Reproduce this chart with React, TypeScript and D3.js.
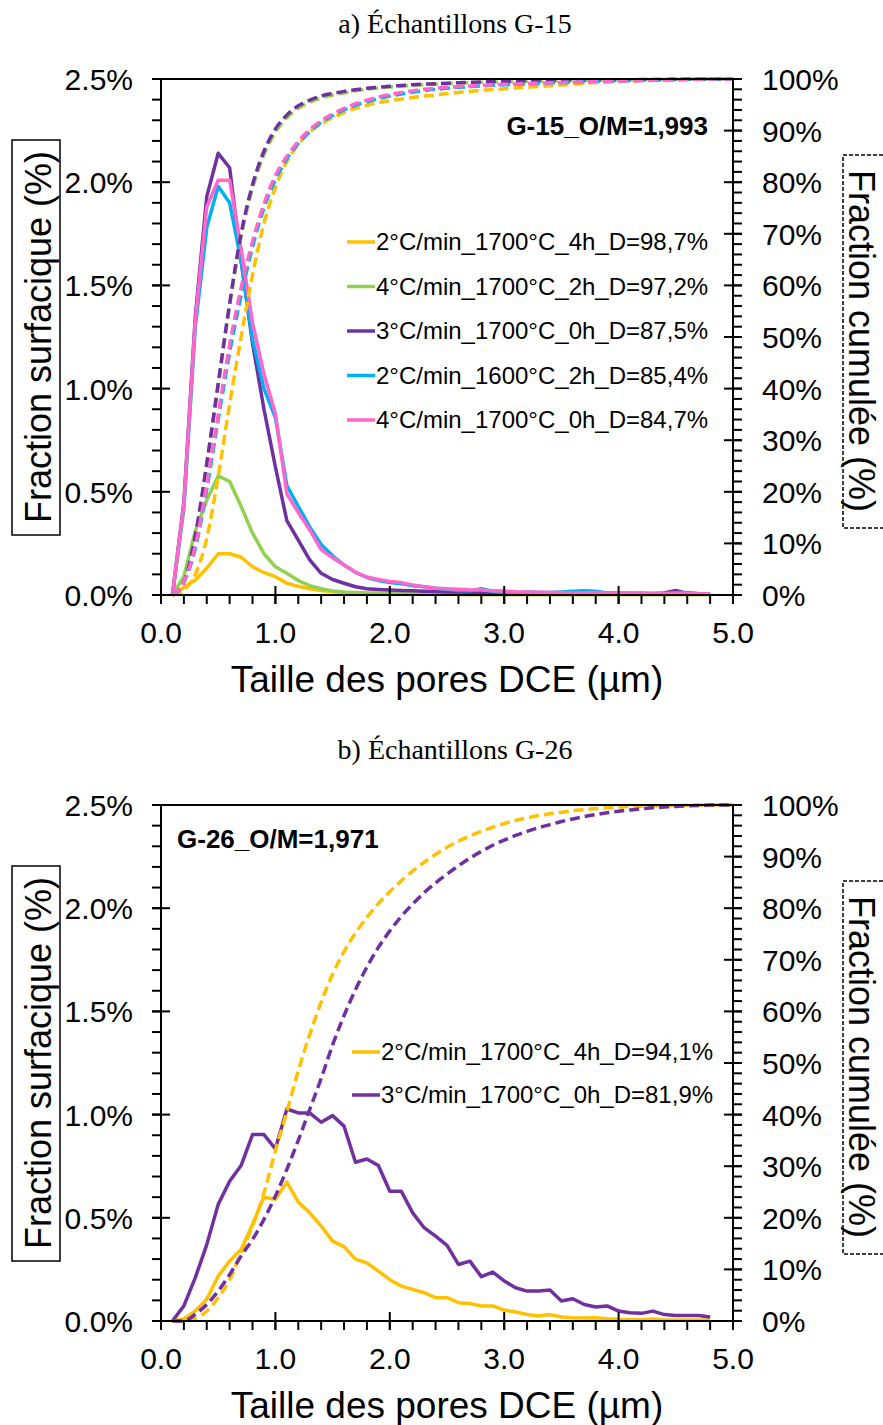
import React from 'react';
import * as d3 from 'd3';

// ---------- DATA ----------
const X_VALUES = [
  0.1, 0.2, 0.3, 0.4, 0.5, 0.6, 0.7, 0.8, 0.9, 1.0,
  1.1, 1.2, 1.3, 1.4, 1.5, 1.6, 1.7, 1.8, 1.9, 2.0,
  2.1, 2.2, 2.3, 2.4, 2.5, 2.6, 2.7, 2.8, 2.9, 3.0,
  3.1, 3.2, 3.3, 3.4, 3.5, 3.6, 3.7, 3.8, 3.9, 4.0,
  4.1, 4.2, 4.3, 4.4, 4.5, 4.6, 4.7, 4.8, 4.9, 5.0,
];
const LEFT_TICKS = [0, 0.5, 1.0, 1.5, 2.0, 2.5];
const RIGHT_TICKS = [0, 10, 20, 30, 40, 50, 60, 70, 80, 90, 100];
const X_TICKS = [0, 1, 2, 3, 4, 5];

// Panel a) G-15
const A_TITLE = 'a) Échantillons G-15';
const A_TAG = 'G-15_O/M=1,993';
const A_NAMES = [
  '2°C/min_1700°C_4h_D=98,7%',
  '4°C/min_1700°C_2h_D=97,2%',
  '3°C/min_1700°C_0h_D=87,5%',
  '2°C/min_1600°C_2h_D=85,4%',
  '4°C/min_1700°C_0h_D=84,7%',
];
// surface fraction (%) at X_VALUES 0.1 .. 4.8
const A_DIST_YELLOW = [0, 0.037, 0.073, 0.13, 0.2, 0.2, 0.183, 0.137, 0.108, 0.089, 0.057, 0.042, 0.03, 0.022, 0.016, 0.012, 0.01, 0.008, 0.007, 0.006, 0.005, 0.005, 0.004, 0.004, 0.004, 0.003, 0.003, 0.003, 0.003, 0.002, 0.002, 0.002, 0.002, 0.002, 0.002, 0.002, 0.002, 0.002, 0.002, 0.002, 0.002, 0.002, 0.002, 0.002, 0.002, 0.002, 0.002, 0.002];
const A_DIST_GREEN = [0, 0.09, 0.31, 0.46, 0.577, 0.55, 0.43, 0.3, 0.2, 0.137, 0.105, 0.07, 0.045, 0.03, 0.02, 0.015, 0.012, 0.01, 0.008, 0.007, 0.006, 0.005, 0.005, 0.004, 0.004, 0.004, 0.003, 0.003, 0.003, 0.003, 0.002, 0.002, 0.002, 0.002, 0.002, 0.002, 0.002, 0.002, 0.002, 0.002, 0.002, 0.002, 0.002, 0.002, 0.002, 0.002, 0.002, 0.002];
const A_DIST_PURPLE = [0, 0.45, 1.35, 1.93, 2.14, 2.07, 1.62, 1.22, 0.9, 0.62, 0.36, 0.266, 0.17, 0.105, 0.075, 0.057, 0.04, 0.03, 0.027, 0.024, 0.022, 0.02, 0.018, 0.017, 0.015, 0.014, 0.013, 0.012, 0.012, 0.011, 0.01, 0.01, 0.01, 0.009, 0.009, 0.009, 0.008, 0.008, 0.008, 0.007, 0.007, 0.007, 0.006, 0.01, 0.022, 0.008, 0.006, 0.005];
const A_DIST_CYAN = [0, 0.42, 1.3, 1.78, 1.98, 1.9, 1.62, 1.24, 1.0, 0.86, 0.53, 0.43, 0.33, 0.245, 0.19, 0.145, 0.11, 0.085, 0.07, 0.06, 0.055, 0.045, 0.04, 0.033, 0.028, 0.022, 0.02, 0.03, 0.018, 0.012, 0.01, 0.015, 0.012, 0.012, 0.015, 0.018, 0.02, 0.018, 0.01, 0.01, 0.008, 0.008, 0.007, 0.007, 0.01, 0.012, 0.006, 0.005];
const A_DIST_PINK = [0, 0.44, 1.33, 1.88, 2.01, 2.01, 1.68, 1.32, 1.07, 0.88, 0.49, 0.4, 0.315, 0.22, 0.18, 0.145, 0.11, 0.087, 0.075, 0.065, 0.06, 0.048, 0.04, 0.033, 0.03, 0.028, 0.025, 0.024, 0.02, 0.019, 0.016, 0.015, 0.013, 0.012, 0.012, 0.01, 0.01, 0.012, 0.01, 0.009, 0.008, 0.008, 0.007, 0.007, 0.008, 0.007, 0.006, 0.006];
// cumulative fraction (%) at X_VALUES 0.1 .. 5.0
const A_CUM_YELLOW = [0, 1, 4, 11, 23, 37, 50, 62, 72, 79, 84, 87.3, 89.7, 91.3, 92.5, 93.5, 94.3, 94.9, 95.4, 95.8, 96.1, 96.4, 96.7, 96.9, 97.2, 97.4, 97.6, 97.8, 97.95, 98.1, 98.25, 98.4, 98.55, 98.7, 98.85, 99, 99.15, 99.3, 99.4, 99.5, 99.6, 99.7, 99.75, 99.85, 99.9, 99.95, 100, 100, 100, 100];
const A_CUM_GREEN = [0, 2.5, 11.3, 25.2, 40.6, 56, 69.4, 78.8, 85.3, 89.7, 92.5, 94.3, 95.5, 96.3, 96.9, 97.3, 97.7, 98, 98.25, 98.45, 98.6, 98.75, 98.9, 99, 99.1, 99.2, 99.28, 99.35, 99.4, 99.45, 99.5, 99.55, 99.6, 99.64, 99.68, 99.72, 99.75, 99.78, 99.8, 99.82, 99.85, 99.87, 99.89, 99.91, 99.93, 99.95, 99.97, 100, 100, 100];
const A_CUM_PURPLE = [0, 2.5, 11.5, 25.5, 41, 56.5, 70, 79.5, 86, 90.3, 93, 94.8, 95.9, 96.7, 97.2, 97.6, 97.9, 98.2, 98.4, 98.6, 98.75, 98.9, 99, 99.1, 99.2, 99.28, 99.35, 99.42, 99.48, 99.53, 99.58, 99.62, 99.66, 99.7, 99.73, 99.76, 99.79, 99.81, 99.83, 99.85, 99.87, 99.88, 99.9, 99.91, 99.95, 99.97, 99.99, 100, 100, 100];
const A_CUM_CYAN = [0, 2.5, 9, 20.5, 34, 47, 58, 67.5, 75, 80.5, 84.5, 87.5, 89.8, 91.6, 92.9, 94, 94.9, 95.6, 96.2, 96.7, 97.1, 97.45, 97.75, 98, 98.2, 98.38, 98.52, 98.66, 98.78, 98.88, 98.97, 99.06, 99.14, 99.22, 99.3, 99.38, 99.46, 99.54, 99.6, 99.65, 99.7, 99.74, 99.78, 99.82, 99.87, 99.92, 99.96, 100, 100, 100];
const A_CUM_PINK = [0, 2.5, 9.5, 21.5, 35, 48.5, 59.5, 68.5, 75.8, 81.3, 85, 87.9, 90.2, 91.9, 93.2, 94.3, 95.2, 95.9, 96.5, 97, 97.4, 97.7, 98, 98.2, 98.38, 98.53, 98.66, 98.78, 98.88, 98.97, 99.05, 99.12, 99.19, 99.26, 99.32, 99.38, 99.44, 99.5, 99.55, 99.6, 99.65, 99.7, 99.74, 99.78, 99.83, 99.88, 99.94, 100, 100, 100];

// Panel b) G-26
const B_TITLE = 'b) Échantillons G-26';
const B_TAG = 'G-26_O/M=1,971';
const B_NAMES = ['2°C/min_1700°C_4h_D=94,1%', '3°C/min_1700°C_0h_D=81,9%'];
const B_DIST_YELLOW = [0, 0.01, 0.048, 0.105, 0.218, 0.29, 0.347, 0.468, 0.6, 0.59, 0.673, 0.576, 0.524, 0.46, 0.387, 0.36, 0.3, 0.282, 0.242, 0.2, 0.169, 0.153, 0.137, 0.113, 0.113, 0.089, 0.085, 0.073, 0.073, 0.053, 0.044, 0.032, 0.024, 0.031, 0.019, 0.016, 0.015, 0.016, 0.011, 0.008, 0.007, 0.006, 0.01, 0.006, 0.005, 0.005, 0.005, 0.005];
const B_DIST_PURPLE = [0, 0.073, 0.21, 0.37, 0.565, 0.677, 0.753, 0.903, 0.903, 0.834, 1.027, 1.008, 1.008, 0.963, 0.995, 0.944, 0.769, 0.785, 0.753, 0.629, 0.629, 0.524, 0.452, 0.411, 0.366, 0.274, 0.29, 0.215, 0.237, 0.194, 0.161, 0.145, 0.145, 0.15, 0.097, 0.108, 0.08, 0.068, 0.073, 0.048, 0.04, 0.037, 0.048, 0.031, 0.027, 0.027, 0.027, 0.019];
const B_CUM_YELLOW = [0, 0, 0.5, 1.9, 4.5, 8, 13.2, 18.4, 24.8, 33, 40.5, 48.5, 55.5, 61.8, 67.2, 71.6, 75.2, 78.2, 80.9, 83.2, 85.3, 87.2, 88.9, 90.4, 91.8, 93, 94, 94.9, 95.7, 96.4, 97, 97.5, 97.95, 98.3, 98.6, 98.9, 99.1, 99.3, 99.45, 99.6, 99.7, 99.75, 99.8, 99.85, 99.9, 99.93, 99.96, 100, 100, 100];
const B_CUM_PURPLE = [0, 0, 1.3, 3.2, 5.8, 9, 12.6, 15.8, 19.7, 24.2, 29.4, 35, 41, 47, 53.5, 59.2, 64.2, 68.6, 72.4, 75.6, 78.4, 80.8, 83, 84.9, 86.6, 88.2, 89.7, 91, 92.2, 93.2, 94.1, 94.9, 95.6, 96.2, 96.8, 97.3, 97.75, 98.15, 98.5, 98.8, 99.05, 99.25, 99.45, 99.6, 99.72, 99.83, 99.92, 100, 100, 100];

// ---------- STYLE ----------
const YELLOW = '#FFC000';
const GREEN = '#92D050';
const PURPLE = '#7030A0';
const CYAN = '#00B0F0';
const PINK = '#FF66CC';
const SANS = '"Liberation Sans", Arial, sans-serif';
const SERIF = '"Liberation Serif", "Times New Roman", serif';

const W = 883;
const H = 1425;
const X0 = 161;
const X1 = 733;
const PLOT_H = 516;

type Series = { name: string; color: string; dist: number[]; cum: number[] };

const x = d3.scaleLinear().domain([0, 5]).range([X0, X1]);

function Panel(props: {
  top: number;
  title: string;
  tag: string;
  tagX: number;
  tagY: number;
  tagAnchor: 'start' | 'end';
  series: Series[];
  legendX: number;
  legendY: number;
  legendStep: number;
}) {
  const { top, series } = props;
  const bottom = top + PLOT_H;
  const yL = d3.scaleLinear().domain([0, 2.5]).range([bottom, top]);
  const yR = d3.scaleLinear().domain([0, 100]).range([bottom, top]);

  const distLine = d3
    .line<number>()
    .x((_, i) => x(X_VALUES[i]))
    .y((d) => yL(d));
  const cumLine = d3
    .line<number>()
    .x((_, i) => x(X_VALUES[i]))
    .y((d) => yR(d))
    .curve(d3.curveMonotoneX);

  const leftMinor = d3.range(0, 26).map((i) => i * 0.1);
  const rightMinor = d3.range(0, 51).map((i) => i * 2);
  const xMinor = d3.range(0, 26).map((i) => i * 0.2);

  return (
    <g>
      <text x={455} y={top - 46} textAnchor="middle" fontFamily={SERIF} fontSize={28} fill="#000">
        {props.title}
      </text>

      {series.map((s, k) => (
        <path key={'d' + k} d={distLine(s.dist) || ''} fill="none" stroke={s.color} strokeWidth={3.5} strokeLinejoin="round" />
      ))}
      {series.map((s, k) => (
        <path key={'c' + k} d={cumLine(s.cum) || ''} fill="none" stroke={s.color} strokeWidth={3.5} strokeDasharray="10,5" />
      ))}

      <line x1={X0} x2={X1} y1={top} y2={top} stroke="#000" strokeWidth={2} />
      <line x1={X0} x2={X1} y1={bottom} y2={bottom} stroke="#000" strokeWidth={2} />
      <line x1={X0} x2={X0} y1={top - 1} y2={bottom + 1} stroke="#000" strokeWidth={2} />
      <line x1={X1} x2={X1} y1={top - 1} y2={bottom + 1} stroke="#000" strokeWidth={2} />

      {leftMinor.map((v, i) => (
        <line key={'lm' + i} x1={X0 - 9} x2={X0} y1={yL(v)} y2={yL(v)} stroke="#000" strokeWidth={2} />
      ))}
      {LEFT_TICKS.map((v) => (
        <g key={'lt' + v}>
          <line x1={X0 - 9} x2={X0 + 9} y1={yL(v)} y2={yL(v)} stroke="#000" strokeWidth={2} />
          <text x={X0 - 28} y={yL(v) + 11} textAnchor="end" fontFamily={SANS} fontSize={30} fill="#000">
            {d3.format('.1f')(v) + '%'}
          </text>
        </g>
      ))}

      {rightMinor.map((v, i) => (
        <line key={'rm' + i} x1={X1} x2={X1 + 9} y1={yR(v)} y2={yR(v)} stroke="#000" strokeWidth={2} />
      ))}
      {RIGHT_TICKS.map((v) => (
        <g key={'rt' + v}>
          <line x1={X1 - 9} x2={X1 + 9} y1={yR(v)} y2={yR(v)} stroke="#000" strokeWidth={2} />
          <text x={X1 + 29} y={yR(v) + 11} textAnchor="start" fontFamily={SANS} fontSize={30} fill="#000">
            {v + '%'}
          </text>
        </g>
      ))}

      {xMinor.map((v, i) => (
        <line key={'xm' + i} x1={x(v)} x2={x(v)} y1={bottom} y2={bottom + 9} stroke="#000" strokeWidth={2} />
      ))}
      {X_TICKS.map((v) => (
        <g key={'xt' + v}>
          <line x1={x(v)} x2={x(v)} y1={bottom - 9} y2={bottom + 9} stroke="#000" strokeWidth={2} />
          <text x={x(v)} y={bottom + 48} textAnchor="middle" fontFamily={SANS} fontSize={30} fill="#000">
            {d3.format('.1f')(v)}
          </text>
        </g>
      ))}

      <text x={447} y={bottom + 97} textAnchor="middle" fontFamily={SANS} fontSize={37} fill="#000">
        Taille des pores DCE (µm)
      </text>
      <rect x={12} y={top + 61} width={48} height={395} fill="none" stroke="#000" strokeWidth={1.5} />
      <text
        transform={`translate(51, ${top + 258}) rotate(-90)`}
        textAnchor="middle"
        fontFamily={SANS}
        fontSize={36}
        fill="#000"
      >
        Fraction surfacique (%)
      </text>
      <rect x={843} y={top + 76} width={50} height={373} fill="none" stroke="#000" strokeWidth={1.5} strokeDasharray="4,2" />
      <text
        transform={`translate(849, ${top + 262}) rotate(90)`}
        textAnchor="middle"
        fontFamily={SANS}
        fontSize={36}
        fill="#000"
      >
        Fraction cumulée (%)
      </text>

      <text x={props.tagX} y={props.tagY} textAnchor={props.tagAnchor} fontFamily={SANS} fontWeight="bold" fontSize={26} fill="#000">
        {props.tag}
      </text>

      {series.map((s, k) => {
        const ly = props.legendY + k * props.legendStep;
        return (
          <g key={'lg' + k}>
            <line x1={props.legendX} x2={props.legendX + 28} y1={ly} y2={ly} stroke={s.color} strokeWidth={3.5} />
            <text x={props.legendX + 29} y={ly + 8} fontFamily={SANS} fontSize={24} fill="#000">
              {s.name}
            </text>
          </g>
        );
      })}
    </g>
  );
}

export default function App() {
  const seriesA: Series[] = [
    { name: A_NAMES[0], color: YELLOW, dist: A_DIST_YELLOW, cum: A_CUM_YELLOW },
    { name: A_NAMES[1], color: GREEN, dist: A_DIST_GREEN, cum: A_CUM_GREEN },
    { name: A_NAMES[2], color: PURPLE, dist: A_DIST_PURPLE, cum: A_CUM_PURPLE },
    { name: A_NAMES[3], color: CYAN, dist: A_DIST_CYAN, cum: A_CUM_CYAN },
    { name: A_NAMES[4], color: PINK, dist: A_DIST_PINK, cum: A_CUM_PINK },
  ];
  const seriesB: Series[] = [
    { name: B_NAMES[0], color: YELLOW, dist: B_DIST_YELLOW, cum: B_CUM_YELLOW },
    { name: B_NAMES[1], color: PURPLE, dist: B_DIST_PURPLE, cum: B_CUM_PURPLE },
  ];
  return (
    <svg
      width={W}
      height={H}
      viewBox={`0 0 ${W} ${H}`}
      style={{ position: 'absolute', left: 0, top: 0, background: '#fff' }}
    >
      <rect x={0} y={0} width={W} height={H} fill="#fff" />
      <Panel
        top={79}
        title={A_TITLE}
        tag={A_TAG}
        tagX={708}
        tagY={135}
        tagAnchor="end"
        series={seriesA}
        legendX={347}
        legendY={242}
        legendStep={44.5}
      />
      <Panel
        top={805}
        title={B_TITLE}
        tag={B_TAG}
        tagX={177}
        tagY={848}
        tagAnchor="start"
        series={seriesB}
        legendX={352}
        legendY={1052}
        legendStep={43}
      />
    </svg>
  );
}
